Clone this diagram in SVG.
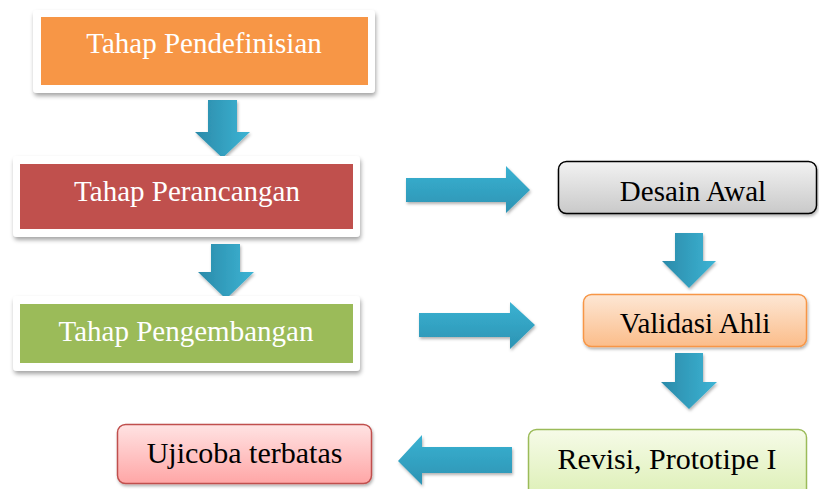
<svg xmlns="http://www.w3.org/2000/svg" width="819" height="489" viewBox="0 0 819 489" font-family="Liberation Serif, serif">
<defs>
<filter id="sh" x="-10%" y="-20%" width="120%" height="150%">
<feDropShadow dx="1" dy="3" stdDeviation="2" flood-color="#000" flood-opacity="0.35"/>
</filter>
<filter id="ash" x="-20%" y="-20%" width="140%" height="140%">
<feDropShadow dx="1" dy="2" stdDeviation="1.5" flood-color="#000" flood-opacity="0.3"/>
</filter>
<linearGradient id="gDown" x1="0" y1="0" x2="1" y2="0">
<stop offset="0" stop-color="#2a8aa9"/>
<stop offset="1" stop-color="#3db4d4"/>
</linearGradient>
<linearGradient id="gSide" x1="0" y1="0" x2="0" y2="1">
<stop offset="0" stop-color="#3ab2d2"/>
<stop offset="1" stop-color="#2c93b3"/>
</linearGradient>
<linearGradient id="gGray" x1="0" y1="0" x2="0" y2="1">
<stop offset="0" stop-color="#f2f2f2"/>
<stop offset="1" stop-color="#c9c9c9"/>
</linearGradient>
<linearGradient id="gOrange" x1="0" y1="0" x2="0" y2="1">
<stop offset="0" stop-color="#fde7d5"/>
<stop offset="1" stop-color="#fbbd8a"/>
</linearGradient>
<linearGradient id="gGreen" x1="0" y1="0" x2="0" y2="1">
<stop offset="0" stop-color="#f6fbe8"/>
<stop offset="1" stop-color="#dcefb4"/>
</linearGradient>
<linearGradient id="gRed" x1="0" y1="0" x2="0" y2="1">
<stop offset="0" stop-color="#ffe3e3"/>
<stop offset="1" stop-color="#ffa6a6"/>
</linearGradient>
</defs>
<style>
.frame{fill:#fff;filter:url(#sh)}
.lbl{font-family:'Liberation Serif',serif;font-size:29px;text-anchor:middle}
.w{fill:#fff}
.k{fill:#000}
.ad{fill:url(#gDown);filter:url(#ash)}
.as{fill:url(#gSide);filter:url(#ash)}
</style>

<g id="connectors">
<path class="ad" d="M208,100 H237 V132 H250 L222.5,158 L195,132 H208 Z"/>
<path class="ad" d="M211,244 H240 V272 H254 L226,299 L198,272 H211 Z"/>
<path class="as" d="M406,178 H506 V166 L530,190 L506,213 V202 H406 Z"/>
<path class="as" d="M419,313 H510 V302 L535,325 L510,349 V337 H419 Z"/>
<path class="ad" d="M675,233 H703 V261 H716 L689,288 L662,261 H675 Z"/>
<path class="ad" d="M675,353 H703 V382 H717 L689,409 L661,382 H675 Z"/>
<path class="as" d="M512,447 H422 V435 L398,461 L422,485 V473 H512 Z"/>
</g>

<g id="n1">
<rect class="frame" x="33" y="10" width="342" height="83" rx="4"/>
<rect x="41" y="17" width="327" height="68" fill="#f79646"/>
<text class="lbl w" x="204" y="53">Tahap Pendefinisian</text>
</g>
<g id="n2">
<rect class="frame" x="13" y="156" width="347" height="81" rx="4"/>
<rect x="20" y="164" width="333" height="65" fill="#c0504d"/>
<text class="lbl w" x="187" y="201">Tahap Perancangan</text>
</g>
<g id="n3">
<rect class="frame" x="13" y="296" width="347" height="75" rx="4"/>
<rect x="20" y="304" width="333" height="59" fill="#9bbb59"/>
<text class="lbl w" x="186" y="341">Tahap Pengembangan</text>
</g>
<g id="n4">
<rect x="558.5" y="161.5" width="258" height="52" rx="8" fill="url(#gGray)" stroke="#000" stroke-width="1.5" filter="url(#ash)"/>
<text class="lbl k" x="693" y="201">Desain Awal</text>
</g>
<g id="n5">
<rect x="583.5" y="294.5" width="223" height="52" rx="8" fill="url(#gOrange)" stroke="#f79646" stroke-width="1.5" filter="url(#ash)"/>
<text class="lbl k" x="695" y="333">Validasi Ahli</text>
</g>
<g id="n6">
<rect x="528.5" y="429.5" width="278" height="70" rx="8" fill="url(#gGreen)" stroke="#9bbb59" stroke-width="1.5"/>
<text class="lbl k" x="667" y="469" style="font-size:30px">Revisi, Prototipe I</text>
</g>
<g id="n7">
<rect x="117.5" y="424.5" width="254" height="59" rx="8" fill="url(#gRed)" stroke="#c0504d" stroke-width="1.5" filter="url(#ash)"/>
<text class="lbl k" x="244.5" y="463" style="font-size:30px">Ujicoba terbatas</text>
</g>
</svg>
